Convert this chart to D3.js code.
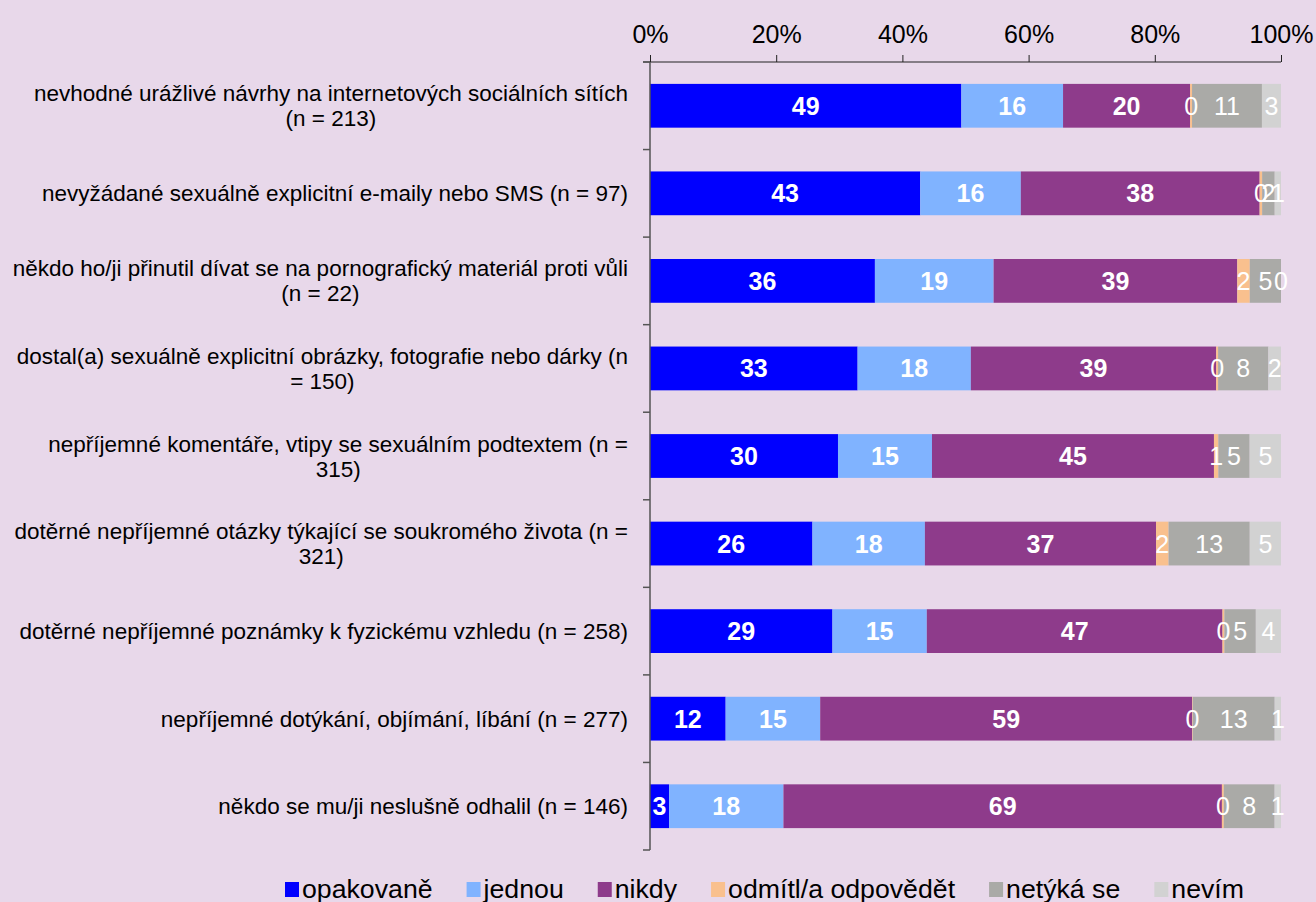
<!DOCTYPE html>
<html>
<head>
<meta charset="utf-8">
<script src="https://cdnjs.cloudflare.com/ajax/libs/d3/7.8.5/d3.min.js"></script>
<style>
  html, body { margin: 0; padding: 0; background: #e8d8ea; }
  svg { display: block; font-family: "Liberation Sans", Arial, sans-serif; }
</style>
</head>
<body>
<div id="chart"></div>
<script>
// categories (each label split into its wrapped lines)
var categories = [
  ["nevhodné urážlivé návrhy na internetových sociálních sítích", "(n = 213)"],
  ["nevyžádané sexuálně explicitní e-maily nebo SMS (n = 97)"],
  ["někdo ho/ji přinutil dívat se na pornografický materiál proti vůli", "(n = 22)"],
  ["dostal(a) sexuálně explicitní obrázky, fotografie nebo dárky (n", "= 150)"],
  ["nepříjemné komentáře, vtipy se sexuálním podtextem (n =", "315)"],
  ["dotěrné nepříjemné otázky týkající se soukromého života (n =", "321)"],
  ["dotěrné nepříjemné poznámky k fyzickému vzhledu (n = 258)"],
  ["nepříjemné dotýkání, objímání, líbání (n = 277)"],
  ["někdo se mu/ji neslušně odhalil (n = 146)"]
];

var seriesNames = ["opakovaně", "jednou", "nikdy", "odmítl/a odpovědět", "netýká se", "nevím"];

// percentages per row
var opakovane = [49, 43, 36, 33, 30, 26, 29, 12, 3];
var jednou    = [16, 16, 19, 18, 15, 18, 15, 15, 18];
var nikdy     = [20, 38, 39, 39, 45, 37, 47, 59, 69];
var odmitl    = [0.3, 0.4, 2, 0.3, 0.7, 2, 0.3, 0.1, 0.3];
var netyka    = [11, 2, 5, 8, 5, 13, 5, 13, 8];
var nevim     = [3, 1, 0, 2, 5, 5, 4, 1, 1];

var tickValues = [0, 0.2, 0.4, 0.6, 0.8, 1];

var colors = ["#0000ff", "#80b3ff", "#8e3b8b", "#f9c08e", "#aaaaa7", "#d2d2d2"];

var width = 1316, height = 902;
var plotLeft = 650, plotRight = 1281, plotTop = 62, plotBottom = 850;

var svg = d3.select("#chart").append("svg")
    .attr("width", width)
    .attr("height", height);

svg.append("rect").attr("width", width).attr("height", height).attr("fill", "#e8d8ea");

var rows = categories.map(function(c, i) {
  return {
    i: i,
    "opakovaně": opakovane[i],
    "jednou": jednou[i],
    "nikdy": nikdy[i],
    "odmítl/a odpovědět": odmitl[i],
    "netýká se": netyka[i],
    "nevím": nevim[i]
  };
});

var stacked = d3.stack().keys(seriesNames).offset(d3.stackOffsetExpand)(rows);

var x = d3.scaleLinear().domain([0, 1]).range([plotLeft, plotRight]);
var y = d3.scaleBand().domain(d3.range(categories.length)).range([plotTop, plotBottom])
    .paddingInner(0.5).paddingOuter(0.25);

// bars
var layer = svg.selectAll("g.layer").data(stacked).enter().append("g")
    .attr("class", "layer")
    .attr("fill", function(d, k) { return colors[k]; });

layer.selectAll("rect").data(function(d) { return d; }).enter().append("rect")
    .attr("x", function(d) { return x(d[0]); })
    .attr("y", function(d) { return y(d.data.i); })
    .attr("width", function(d) { return Math.max(0, x(d[1]) - x(d[0])); })
    .attr("height", y.bandwidth());

// value labels (drawn above all bars)
var labelData = [];
stacked.forEach(function(s, k) {
  s.forEach(function(seg) { labelData.push({seg: seg, key: s.key, k: k}); });
});
svg.append("g").selectAll("text").data(labelData).enter().append("text")
    .attr("x", function(d) { return (x(d.seg[0]) + x(d.seg[1])) / 2; })
    .attr("y", function(d) { return y(d.seg.data.i) + y.bandwidth() / 2; })
    .attr("dy", "0.36em")
    .attr("text-anchor", "middle")
    .style("fill", "#fff")
    .style("font-size", "25px")
    .style("font-weight", function(d) { return d.k < 3 ? 700 : 400; })
    .text(function(d) { return Math.round(d.seg.data[d.key]); });

// top axis
var xAxis = d3.axisTop(x).tickValues(tickValues).tickSize(7).tickPadding(12)
    .tickFormat(d3.format(".0%"));
var gx = svg.append("g").attr("transform", "translate(0," + plotTop + ")").call(xAxis);
gx.attr("font-family", null).attr("font-size", null);
gx.select(".domain").attr("stroke", "#222").attr("d", "M" + (plotLeft - 7) + ",0H" + plotRight);
gx.selectAll(".tick line").attr("stroke", "#222");
gx.selectAll(".tick text").style("font-size", "25px").style("fill", "#000");

// left axis line with ticks at band boundaries
var boundaries = d3.range(categories.length + 1).map(function(i) {
  return plotTop + i * (plotBottom - plotTop) / categories.length;
});
svg.append("line").attr("x1", plotLeft).attr("x2", plotLeft).attr("y1", plotTop).attr("y2", plotBottom)
    .attr("stroke", "#555").attr("stroke-width", 1.5);
svg.selectAll("line.ytick").data(boundaries).enter().append("line")
    .attr("class", "ytick")
    .attr("x1", plotLeft - 7).attr("x2", plotLeft)
    .attr("y1", function(d) { return d; }).attr("y2", function(d) { return d; })
    .attr("stroke", "#555").attr("stroke-width", 1.5);

// category labels: lines centred on each other, block right-aligned
var labelRight = 628, lineH = 25;
categories.forEach(function(lines, i) {
  var cy = y(i) + y.bandwidth() / 2;
  var g = svg.append("g");
  var texts = lines.map(function(line, j) {
    return g.append("text")
      .attr("y", cy + (j - (lines.length - 1) / 2) * lineH)
      .attr("dy", "0.36em")
      .attr("text-anchor", "middle")
      .style("font-size", "22.5px")
      .style("fill", "#000")
      .text(line);
  });
  var maxW = d3.max(texts, function(t) { return t.node().getComputedTextLength(); });
  texts.forEach(function(t) { t.attr("x", labelRight - maxW / 2); });
});

// legend
var legend = svg.append("g").attr("transform", "translate(285,0)");
var lx = 0;
seriesNames.forEach(function(name, k) {
  legend.append("rect").attr("x", lx).attr("y", 882).attr("width", 14).attr("height", 15)
      .attr("fill", colors[k]);
  var t = legend.append("text").attr("x", lx + 17).attr("y", 898)
      .style("font-size", "26.7px").style("fill", "#000").text(name);
  lx += 17 + t.node().getComputedTextLength() + 34;
});
</script>
</body>
</html>
